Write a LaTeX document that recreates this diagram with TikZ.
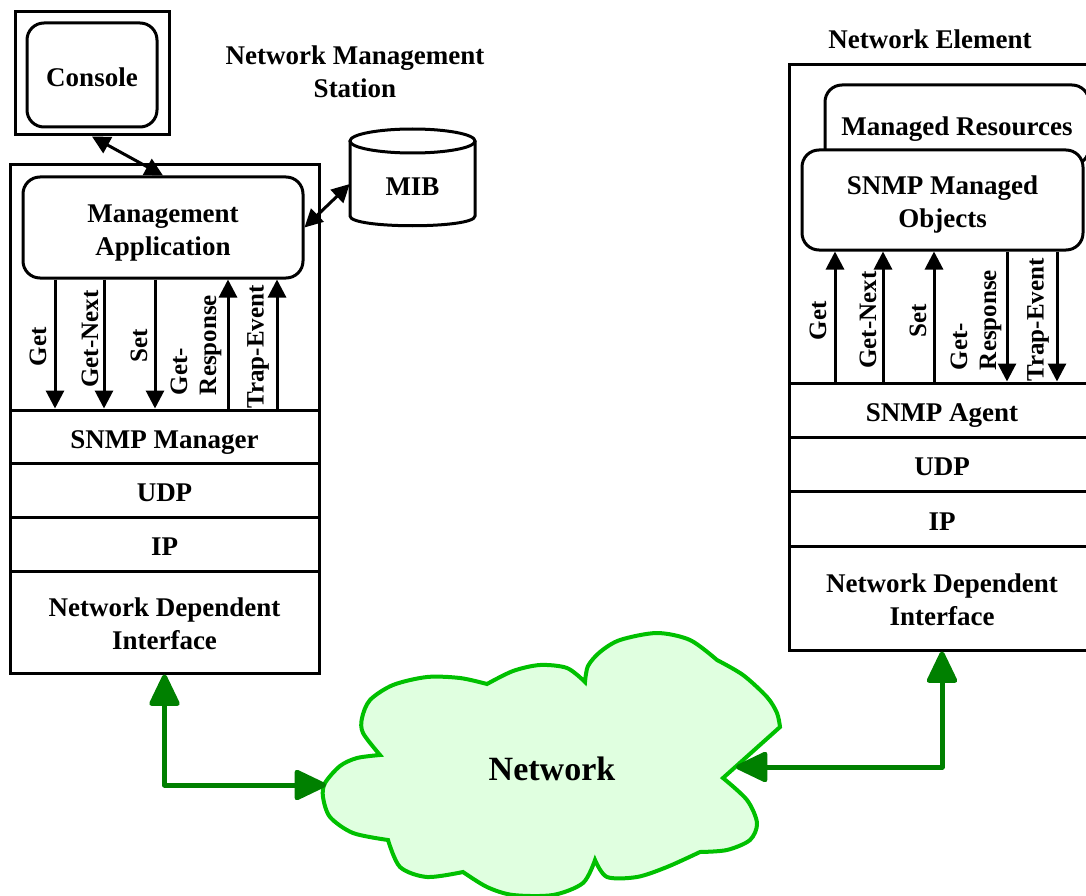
\documentclass[tikz,border=0pt]{standalone}
\usepackage{fontspec}
\setmainfont{Liberation Serif}
\usetikzlibrary{arrows.meta}
\definecolor{dgreen}{RGB}{0,128,0}
\definecolor{cgreen}{RGB}{0,192,0}
\definecolor{cfill}{RGB}{224,255,224}
\begin{document}
\begin{tikzpicture}[x=1pt,y=-1pt,
  txt/.style={font=\bfseries\fontsize{27}{33}\selectfont, align=center},
  box/.style={draw, line width=3pt, inner sep=0pt, txt},
  one/.style={text height=23pt, text depth=0pt},
  rbox/.style={box, rounded corners=17pt},
  vlab/.style={rotate=90, align=left, inner sep=0pt, font=\bfseries\fontsize{25}{29}\selectfont},
  arr/.style={line width=3pt, -{Triangle[length=18pt,width=18pt]}},
  darr/.style={line width=3pt, {Triangle[length=18pt,width=18pt]}-{Triangle[length=18pt,width=18pt]}},
  garr/.style={draw=dgreen, line width=5pt, line join=round, {Triangle[length=35pt,width=32pt,round]}-{Triangle[length=35pt,width=32pt,round]}},
  cloudst/.style={draw=cgreen, line width=4pt, fill=cfill, line join=miter}
]
\useasboundingbox (0,0) rectangle (1086,896);

% ---------- Network Management Station ----------
\node[txt] (nmstitle) at (355,72) {Network Management\\Station};
\node[box, minimum width=154pt, minimum height=123pt] (console) at (92,73.5) {};
\node[rbox, one, minimum width=130pt, minimum height=104pt] (consolein) at (92,75) {Console};

\node[box, minimum width=309pt, minimum height=508pt] (nms) at (164.5,419) {};
\node[rbox, minimum width=280pt, minimum height=101pt,
      label={[txt, yshift=-6pt]center:{Management\\Application}}] (mapp) at (163,227.5) {};
\node[box, one, minimum width=309pt, minimum height=53pt] (mgr) at (164.5,436.5) {SNMP Manager};
\node[box, one, minimum width=309pt, minimum height=54pt] (udpl) at (164.5,490) {UDP};
\node[box, one, minimum width=309pt, minimum height=54pt] (ipl) at (164.5,544) {IP};
\node[box, minimum width=309pt, minimum height=102pt,
      label={[txt, yshift=-2pt]center:{Network Dependent\\Interface}}] (ndil) at (164.5,622) {};

% MIB cylinder
\draw[line width=3pt, fill=white] (350,141) -- (350,216) .. controls (350,229) and (475,229) .. (475,216) -- (475,141);
\draw[line width=3pt, fill=white] (412.5,141) ellipse [x radius=62.5pt, y radius=12pt];
\node[txt, one, minimum width=125pt, minimum height=86pt, inner sep=0pt] (mib) at (412.5,184) {MIB};

\draw[darr] (console.south) -- (mapp.north);
\draw[darr] (mapp.east) -- (mib.west);

% left primitives
\foreach \x in {55,104,155} \draw[arr] (mapp.south -| \x,0) -- (mgr.north -| \x,0);
\foreach \x in {228,277} \draw[arr] (mgr.north -| \x,0) -- (mapp.south -| \x,0);
\node[vlab] (lget) at (38,347) {Get};
\node[vlab] (lgetn) at (90,339) {Get-Next};
\node[vlab] (lset) at (139,346) {Set};
\node[vlab] (lgetr) at (196,345) {Get-\\Response};
\node[vlab] (ltrap) at (258,347) {Trap-Event};

% ---------- Network Element ----------
\node[txt] (netitle) at (930,39) {Network Element};
\node[box, minimum width=306pt, minimum height=585pt] (ne) at (942,357.5) {};
\node[rbox, minimum width=264pt, minimum height=80pt] (mr) at (957,125) {};
\node[txt, one] (mrtext) at (957,124) {Managed Resources};
\node[rbox, fill=white, minimum width=281pt, minimum height=100pt,
      label={[txt, yshift=-5pt]center:{SNMP Managed\\Objects}}] (smo) at (942.5,200) {};
\node[box, one, minimum width=306pt, minimum height=54pt] (agent) at (942,410) {SNMP Agent};
\node[box, one, minimum width=306pt, minimum height=54pt] (udpr) at (942,464) {UDP};
\node[box, one, minimum width=306pt, minimum height=55pt] (ipr) at (942,518.5) {IP};
\node[box, minimum width=306pt, minimum height=104pt,
      label={[txt, yshift=-2pt]center:{Network Dependent\\Interface}}] (ndir) at (942,598) {};

\foreach \x in {835,883,934} \draw[arr] (agent.north -| \x,0) -- (smo.south -| \x,0);
\foreach \x in {1007,1057} \draw[arr] (smo.south -| \x,0) -- (agent.north -| \x,0);
\node[vlab] (rget) at (818,321) {Get};
\node[vlab] (rgetn) at (868,320) {Get-Next};
\node[vlab] (rset) at (918,321) {Set};
\node[vlab] (rgetr) at (976,320) {Get-\\Response};
\node[vlab] (rtrap) at (1038,320) {Trap-Event};

% ---------- Network cloud ----------
\draw[cloudst]
  plot[smooth] coordinates {(380,755) (363,733) (362,718) (370,700) (393,685) (427,677) (460,678) (487,684)}
  -- plot[smooth] coordinates {(487,684) (513,671) (540,665) (567,668) (585,682)}
  -- plot[smooth] coordinates {(585,682) (588,666) (600,652) (620,640) (657,633) (690,640) (717,660)}
  -- plot[smooth] coordinates {(717,660) (743,675) (767,697) (777,713) (780,727)}
  -- (723,778)
  -- plot[smooth] coordinates {(723,778) (747,800) (757,823) (750,840) (727,850) (700,852)}
  -- plot[smooth] coordinates {(700,852) (667,867) (637,877) (607,877) (595,860)}
  -- plot[smooth] coordinates {(595,860) (583,883) (553,895) (513,895) (487,887) (463,872)}
  -- plot[smooth] coordinates {(463,872) (427,877) (400,867) (388,840)}
  -- plot[smooth] coordinates {(388,840) (353,833) (330,817) (323,797) (325,783) (340,766) (357,758) (380,755)}
  -- cycle;
\node[font=\bfseries\fontsize{34}{40}\selectfont, text height=24pt, text depth=0pt] (net) at (552,768) {Network};
\coordinate (cl) at (326,785);
\coordinate (cr) at (736,767);

\draw[garr] (ndil.south) |- (cl);
\draw[garr] (ndir.south) |- (cr);
\end{tikzpicture}
\end{document}
